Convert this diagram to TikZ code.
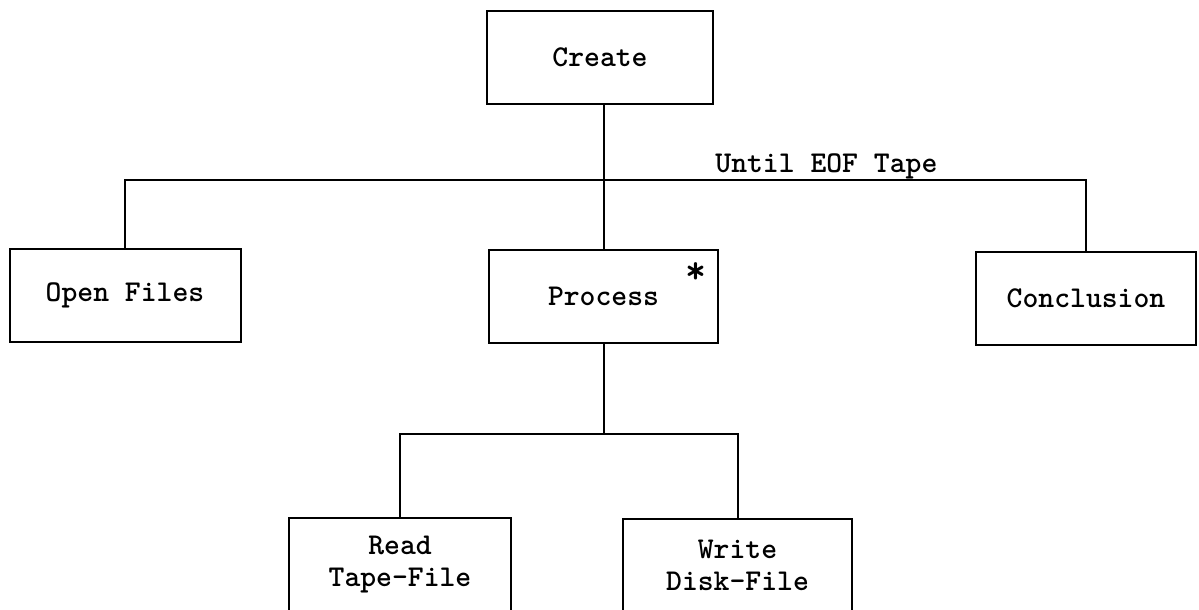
\documentclass[tikz,border=0pt]{standalone}
\usepackage{tikz}

\tikzset{
  modbox/.style={draw, line width=1pt, font=\ttfamily\bfseries\fontsize{15.1}{16}\selectfont,
    align=center, inner sep=0pt, minimum height=46.5pt},
  link/.style={line width=1pt}
}

\begin{document}
\begin{tikzpicture}[x=0.5pt, y=-0.5pt]
  \useasboundingbox (0,0) rectangle (1199,610);
  \node[modbox, minimum width=113pt] (create) at (600,57.5) {Create};
  \node[modbox, minimum width=115.5pt] (openf) at (125,295.5) {Open Files};
  \node[modbox, minimum width=114.5pt] (process) at (603.5,296.5) {Process};
  \node[modbox, minimum width=110pt] (concl) at (1086,298.5) {Conclusion};
  \node[modbox, minimum width=111pt] (readf) at (400,564.5) {Read\\Tape-File};
  \node[modbox, minimum width=114.5pt] (writef) at (737.5,565.5) {Write\\Disk-File};
  \node[font=\ttfamily\bfseries\fontsize{20}{20}\selectfont, inner sep=0pt] (rep)
    at ([xshift=-11.5pt, yshift=-12pt]process.north east) {*};
  \node[font=\ttfamily\bfseries\fontsize{15.1}{16}\selectfont, anchor=base west, inner sep=0pt] (until)
    at (715,172) {Until EOF Tape};
  \coordinate (busA) at (603.5,180);
  \path (process.south) ++(0,90) coordinate (busB);
  \draw[link] (create.south -| process.north) -- (process.north);
  \draw[link] (openf.north) |- (busA) -| (concl.north);
  \draw[link] (process.south) -- (busB);
  \draw[link] (readf.north) |- (busB) -| (writef.north);
\end{tikzpicture}
\end{document}
